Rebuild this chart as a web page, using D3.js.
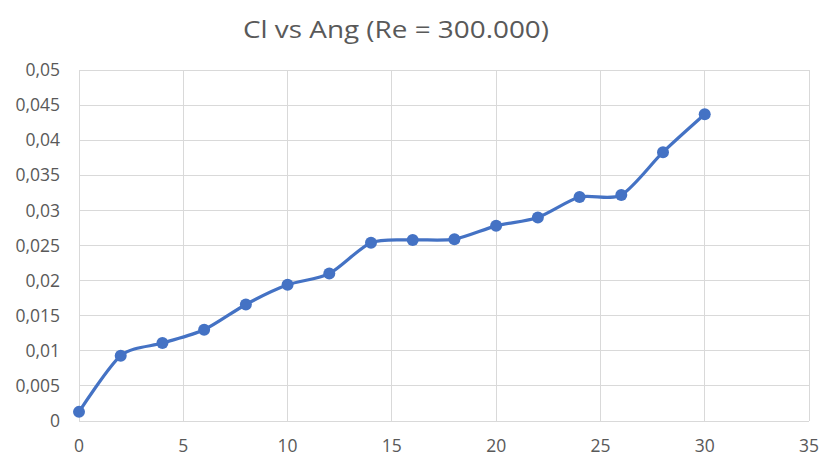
<!DOCTYPE html>
<html><head><meta charset="utf-8">
<script src="https://cdn.jsdelivr.net/npm/d3@7"></script>
<style>body{margin:0;background:#fff}svg{display:block}</style>
</head><body><svg id="c" width="823" height="458"></svg>
<script>
const title = "Cl vs Ang (Re = 300.000)";
const angles = [0,2,4,6,8,10,12,14,16,18,20,22,24,26,28,30];
const cl = [0.0013,0.0093,0.0111,0.0130,0.0166,0.0194,0.0210,0.0254,0.0258,0.0259,0.0278,0.0290,0.0319,0.0322,0.0383,0.0437];
const xTicks = [0,5,10,15,20,25,30,35];
const yTicks = [0,0.005,0.01,0.015,0.02,0.025,0.03,0.035,0.04,0.045,0.05];

const svg = d3.select("#c");
const L=79,R=809,T=70,B=421;
const x = d3.scaleLinear().domain([0,35]).range([L,R]);
const y = d3.scaleLinear().domain([0,0.05]).range([B,T]);
const font = "'Open Sans', sans-serif";
const fmt = v => String(+v.toFixed(3)).replace(".", ",");

svg.append("text").attr("x",396).attr("y",38).attr("text-anchor","middle")
  .attr("font-family",font).attr("font-size",24).attr("fill","#595959")
  .attr("textLength",306).attr("lengthAdjust","spacingAndGlyphs").text(title);

const g = svg.append("g");
g.selectAll("line.h").data(yTicks).enter().append("line")
  .attr("x1",L).attr("x2",R).attr("y1",d=>y(d)).attr("y2",d=>y(d))
  .attr("stroke","#d9d9d9").attr("stroke-width",1).attr("shape-rendering","crispEdges");
g.selectAll("line.v").data(xTicks).enter().append("line")
  .attr("y1",T).attr("y2",B).attr("x1",d=>x(d)).attr("x2",d=>x(d))
  .attr("stroke","#d9d9d9").attr("stroke-width",1).attr("shape-rendering","crispEdges");

g.selectAll("text.y").data(yTicks).enter().append("text")
  .attr("x",60).attr("y",d=>y(d)).attr("dy","0.35em").attr("text-anchor","end")
  .attr("font-family",font).attr("font-size",17.5).attr("fill","#595959").text(fmt);
g.selectAll("text.x").data(xTicks).enter().append("text")
  .attr("x",d=>x(d)).attr("y",446).attr("dy","0.35em").attr("text-anchor","middle")
  .attr("font-family",font).attr("font-size",17.5).attr("fill","#595959").text(d=>d);

const pts = angles.map((a,i)=>[a,cl[i]]);
const line = d3.line().x(d=>x(d[0])).y(d=>y(d[1])).curve(d3.curveCardinal.tension(0.2));
svg.append("path").attr("d",line(pts)).attr("fill","none").attr("stroke","#4472C4")
  .attr("stroke-width",3.2).attr("stroke-linecap","round");
svg.selectAll("circle").data(pts).enter().append("circle")
  .attr("cx",d=>x(d[0])).attr("cy",d=>y(d[1])).attr("r",6).attr("fill","#4472C4");
</script></body></html>
